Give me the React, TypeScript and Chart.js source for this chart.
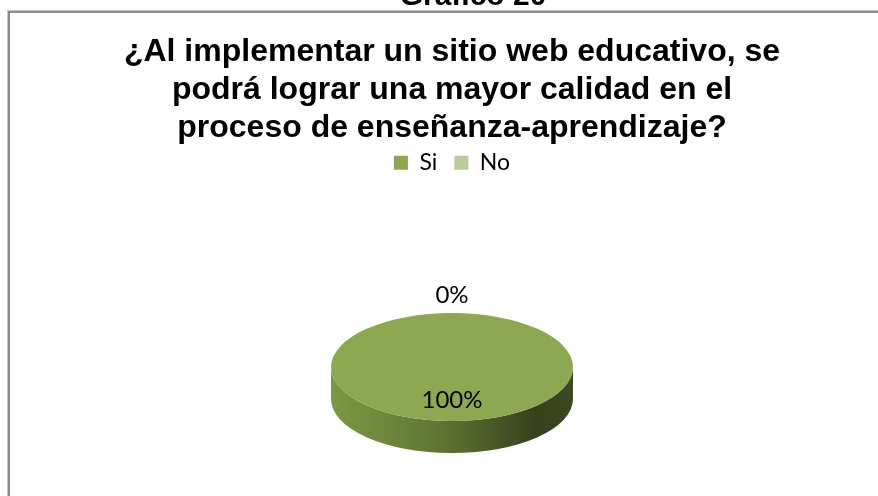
import React, { useEffect, useRef } from 'react';
import { Chart, registerables } from 'chart.js';

Chart.register(...registerables);

const HEADING = 'Gráfico 20';
const TITLE_LINES = [
  '¿Al implementar un sitio web educativo, se',
  'podrá lograr una mayor calidad en el',
  'proceso de enseñanza-aprendizaje?',
];
const CATEGORIES = ['Si', 'No'];
const VALUES = [100, 0];
const COLORS = ['#8CA851', '#BACD95'];
const SIDE_SHADES = [
  ['#7C9943', '#5E7633', '#36411C', '#3D4922'],
  ['#A9BD86', '#8FA26C', '#66754A', '#6E7D52'],
];

const TILT = 0.446;
const DEPTH = 32;
const LABEL_FONT = '24px Lato';

const pie3d = {
  id: 'pie3d',
  beforeDatasetsDraw(chart: any) {
    const meta = chart.getDatasetMeta(0);
    const arcs = meta.data;
    const ctx = chart.ctx;
    ctx.save();
    if (!arcs.length) return;
    const { x, y, outerRadius: r } = arcs[0];
    const ry = r * TILT;
    const ey = chart.chartArea.bottom - DEPTH - ry;
    chart.$pie3d = { x, y, r, ry, ey };
    arcs.forEach((arc: any, i: number) => {
      const { startAngle, endAngle } = arc;
      if (endAngle - startAngle <= 0) return;
      for (const off of [-2 * Math.PI, 0, 2 * Math.PI]) {
        const a = Math.max(startAngle, off);
        const b = Math.min(endAngle, off + Math.PI);
        if (b <= a) continue;
        const a0 = a - off;
        const b0 = b - off;
        const g = ctx.createLinearGradient(x - r, 0, x + r, 0);
        const s = SIDE_SHADES[i % SIDE_SHADES.length];
        g.addColorStop(0, s[0]);
        g.addColorStop(0.45, s[1]);
        g.addColorStop(0.85, s[2]);
        g.addColorStop(1, s[3]);
        ctx.beginPath();
        ctx.ellipse(x, ey, r, ry, 0, a0, b0, false);
        ctx.ellipse(x, ey + DEPTH, r, ry, 0, b0, a0, true);
        ctx.closePath();
        ctx.fillStyle = g;
        ctx.fill();
      }
    });
    ctx.translate(0, ey);
    ctx.scale(1, TILT);
    ctx.translate(0, -y);
  },
  afterDatasetsDraw(chart: any) {
    const ctx = chart.ctx;
    ctx.restore();
    const p = chart.$pie3d;
    if (!p) return;
    const meta = chart.getDatasetMeta(0);
    const data = chart.data.datasets[0].data as number[];
    const total = data.reduce((s, v) => s + v, 0);
    ctx.save();
    ctx.font = LABEL_FONT;
    ctx.fillStyle = '#000000';
    ctx.textAlign = 'center';
    ctx.textBaseline = 'middle';
    meta.data.forEach((arc: any, i: number) => {
      const pct = Math.round((data[i] / total) * 100);
      const mid = (arc.startAngle + arc.endAngle) / 2;
      const c = Math.cos(mid);
      const sn = Math.sin(mid);
      let lx: number;
      let ly: number;
      if (pct < 5) {
        lx = p.x + c * (p.r + 18);
        ly = p.ey + sn * p.ry + sn * 18;
      } else {
        lx = p.x + c * p.r * 0.62;
        ly = p.ey + sn * p.ry * 0.62;
      }
      ctx.fillText(pct + '%', lx, ly);
    });
    ctx.restore();
  },
  afterDraw(chart: any) {
    const ctx = chart.ctx;
    ctx.save();
    ctx.font = 'bold 30px "Liberation Sans"';
    ctx.fillStyle = '#000000';
    ctx.textAlign = 'center';
    ctx.textBaseline = 'alphabetic';
    ctx.fillText(HEADING, 473, 5);
    ctx.restore();
  },
};

export default function App() {
  const ref = useRef<HTMLCanvasElement | null>(null);
  useEffect(() => {
    if (!ref.current) return;
    const chart = new Chart(ref.current, {
      type: 'pie',
      data: {
        labels: CATEGORIES,
        datasets: [
          {
            data: VALUES,
            backgroundColor: COLORS,
            borderWidth: 0,
            radius: 121,
            clip: false,
          } as any,
        ],
      },
      options: {
        responsive: false,
        animation: false,
        events: [],
        layout: { padding: { left: 26, right: 0, top: 0, bottom: 43 } },
        plugins: {
          title: {
            display: true,
            text: TITLE_LINES,
            color: '#000000',
            font: { family: '"Liberation Sans"', weight: 'bold', size: 32, lineHeight: 1.19 },
            padding: { top: 33, bottom: -13 },
          },
          legend: {
            position: 'top',
            labels: {
              boxWidth: 14,
              boxHeight: 14,
              padding: 17,
              color: '#000000',
              font: { family: 'Lato', size: 23 },
            },
          },
          tooltip: { enabled: false },
        },
      },
      plugins: [pie3d],
    });
    return () => chart.destroy();
  }, []);

  return (
    <div style={{ position: 'fixed', left: 0, top: 0, width: 878, height: 496, overflow: 'hidden', background: '#ffffff' }}>
      <div
        style={{
          position: 'absolute',
          left: 7,
          top: 10,
          width: 1000,
          height: 1000,
          borderLeft: '1px solid #c6c6c6',
          borderTop: '1px solid #c6c6c6',
        }}
      >
        <div style={{ width: '100%', height: '100%', borderLeft: '2px solid #8c8c8c', borderTop: '2px solid #8c8c8c' }} />
      </div>
      <canvas ref={ref} width={878} height={496} style={{ position: 'absolute', left: 0, top: 0 }} />
    </div>
  );
}
